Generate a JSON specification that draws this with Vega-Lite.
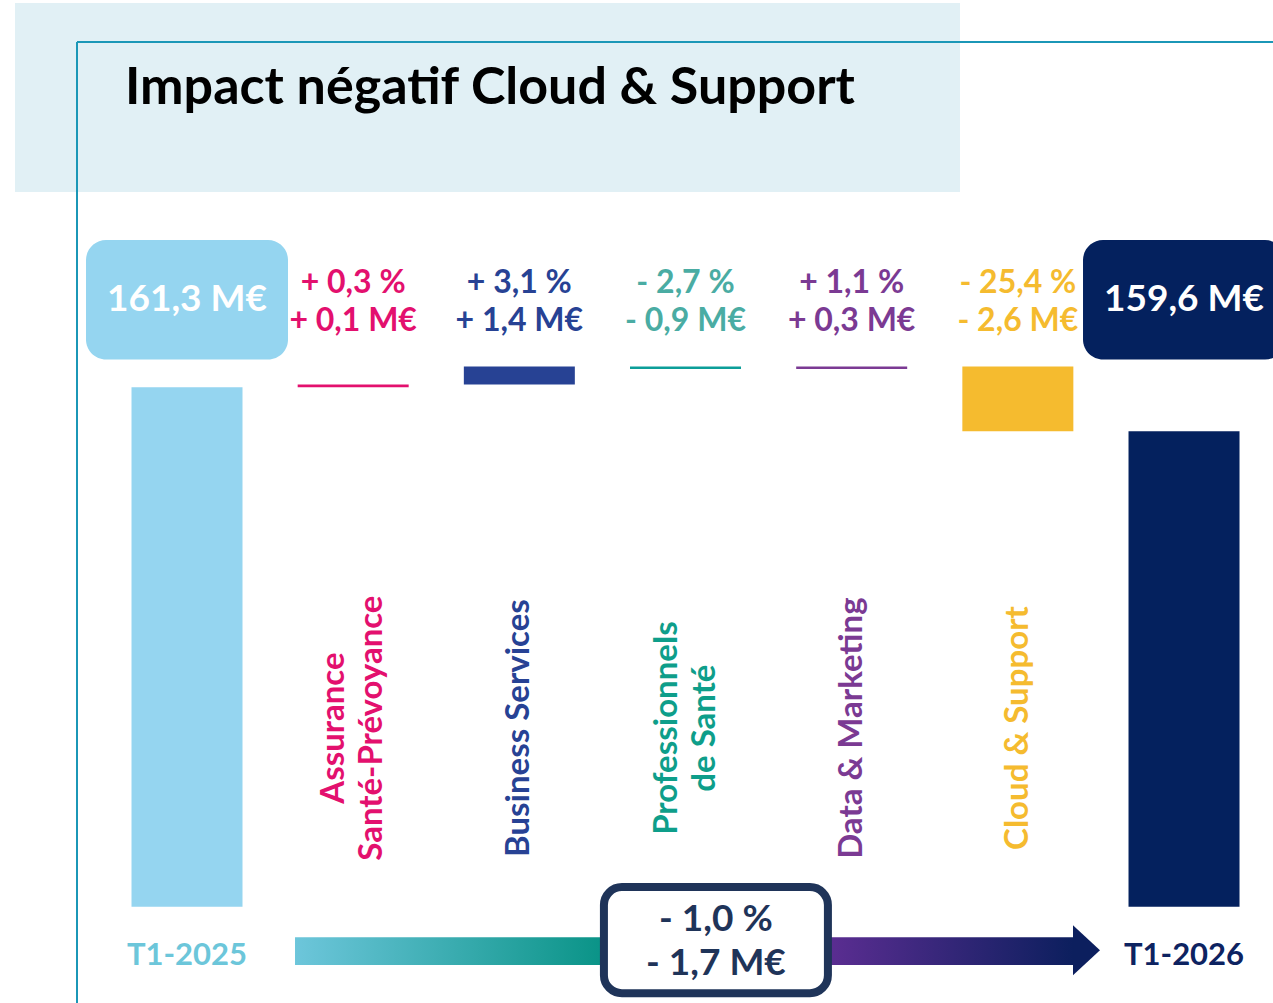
{
  "$schema": "https://vega.github.io/schema/vega-lite/v6.json",
  "width": 1273,
  "height": 1003,
  "autosize": "none",
  "padding": 0,
  "background": "white",
  "config": {"view": {"stroke": null}, "scale": {"continuousPadding": 0}, "text": {"font": "Lato", "fontWeight": "bold"}},
  "datasets": {
    "steps": [
      {"idx": 0, "cat": "T1-2025", "kind": "total", "label": "T1-2025", "start": 141.3, "end": 161.3, "value": "161,3 M€"},
      {"idx": 1, "cat": "Assurance Santé-Prévoyance", "kind": "delta", "label": "Assurance\nSanté-Prévoyance", "start": 161.3, "end": 161.4, "pct": "+ 0,3 %", "value": "+ 0,1 M€"},
      {"idx": 2, "cat": "Business Services", "kind": "delta", "label": "Business Services", "start": 161.4, "end": 162.1, "pct": "+ 3,1 %", "value": "+ 1,4 M€"},
      {"idx": 3, "cat": "Professionnels de Santé", "kind": "delta", "label": "Professionnels\nde Santé", "start": 162.1, "end": 162.0, "pct": "- 2,7 %", "value": "- 0,9 M€"},
      {"idx": 4, "cat": "Data & Marketing", "kind": "delta", "label": "Data & Marketing", "start": 162.0, "end": 162.1, "pct": "+ 1,1 %", "value": "+ 0,3 M€"},
      {"idx": 5, "cat": "Cloud & Support", "kind": "delta", "label": "Cloud & Support", "start": 162.1, "end": 159.6, "pct": "- 25,4 %", "value": "- 2,6 M€"},
      {"idx": 6, "cat": "T1-2026", "kind": "total", "label": "T1-2026", "start": 141.3, "end": 159.6, "value": "159,6 M€"}
    ],
    "summary": [{"pct": "- 1,0 %", "value": "- 1,7 M€"}],
    "heading": [{"title": "Impact négatif Cloud & Support"}]
  },
  "data": {"name": "steps"},
  "resolve": {"scale": {"color": "independent"}},
  "layer": [
    {
      "data": {"name": "heading"},
      "mark": {"type": "rect", "color": "#e1f0f5"},
      "encoding": {
        "x": {"datum": -1.035, "type": "quantitative", "scale": {"domain": [-1.1254, 6.5355], "nice": false, "zero": false, "padding": 0}, "axis": null},
        "x2": {"datum": 4.652},
        "y": {"datum": 176.08, "type": "quantitative", "scale": {"domain": [137.6, 176.2], "nice": false, "zero": false}, "axis": null},
        "y2": {"datum": 168.81}
      }
    },
    {
      "data": {"name": "heading"},
      "mark": {"type": "rule", "color": "#1b97b7", "strokeWidth": 2},
      "encoding": {
        "x": {"datum": -0.662, "type": "quantitative", "scale": {"domain": [-1.1254, 6.5355], "nice": false, "zero": false, "padding": 0}, "axis": null},
        "y": {"datum": 174.58, "type": "quantitative", "scale": {"domain": [137.6, 176.2], "nice": false, "zero": false}, "axis": null},
        "y2": {"datum": 137.6}
      }
    },
    {
      "data": {"name": "heading"},
      "mark": {"type": "rule", "color": "#1b97b7", "strokeWidth": 2},
      "encoding": {
        "x": {"datum": -0.662, "type": "quantitative", "scale": {"domain": [-1.1254, 6.5355], "nice": false, "zero": false, "padding": 0}, "axis": null},
        "x2": {"datum": 6.5355},
        "y": {"datum": 174.58, "type": "quantitative", "scale": {"domain": [137.6, 176.2], "nice": false, "zero": false}, "axis": null}
      }
    },
    {
      "data": {"name": "heading"},
      "mark": {"type": "text", "align": "left", "baseline": "alphabetic", "fontSize": 52, "color": "#000000"},
      "encoding": {
        "x": {"datum": -0.373, "type": "quantitative", "scale": {"domain": [-1.1254, 6.5355], "nice": false, "zero": false, "padding": 0}, "axis": null},
        "y": {"datum": 172.2, "type": "quantitative", "scale": {"domain": [137.6, 176.2], "nice": false, "zero": false}, "axis": null},
        "text": {"field": "title"}
      }
    },
    {
      "transform": [{"filter": "datum.kind == 'total'"}],
      "mark": {"type": "bar", "width": 202, "cornerRadius": 20},
      "encoding": {
        "x": {"field": "idx", "type": "quantitative", "scale": {"domain": [-1.1254, 6.5355], "nice": false, "zero": false, "padding": 0}, "axis": null},
        "y": {"datum": 166.96, "type": "quantitative", "scale": {"domain": [137.6, 176.2], "nice": false, "zero": false}, "axis": null},
        "y2": {"datum": 162.36},
        "color": {"field": "cat", "type": "nominal", "scale": {"domain": ["T1-2025", "T1-2026"], "range": ["#95d5f0", "#04215e"]}, "legend": null}
      }
    },
    {
      "mark": {"type": "bar", "width": 111},
      "encoding": {
        "x": {"field": "idx", "type": "quantitative", "scale": {"domain": [-1.1254, 6.5355], "nice": false, "zero": false, "padding": 0}, "axis": null},
        "y": {"field": "start", "type": "quantitative", "scale": {"domain": [137.6, 176.2], "nice": false, "zero": false}, "axis": null},
        "y2": {"field": "end"},
        "color": {"field": "cat", "type": "nominal", "scale": {"domain": ["T1-2025", "Assurance Santé-Prévoyance", "Business Services", "Professionnels de Santé", "Data & Marketing", "Cloud & Support", "T1-2026"], "range": ["#95d5f0", "#e3106e", "#274294", "#0c9e99", "#7b3a93", "#f5bb2f", "#04215e"]}, "legend": null}
      }
    },
    {
      "transform": [{"filter": "datum.kind == 'total'"}],
      "mark": {"type": "text", "align": "center", "baseline": "middle", "fontSize": 37, "color": "#ffffff"},
      "encoding": {
        "x": {"field": "idx", "type": "quantitative", "scale": {"domain": [-1.1254, 6.5355], "nice": false, "zero": false, "padding": 0}, "axis": null},
        "y": {"datum": 164.65, "type": "quantitative", "scale": {"domain": [137.6, 176.2], "nice": false, "zero": false}, "axis": null},
        "text": {"field": "value"}
      }
    },
    {
      "transform": [{"filter": "datum.kind == 'delta'"}],
      "mark": {"type": "text", "align": "center", "baseline": "middle", "fontSize": 32},
      "encoding": {
        "x": {"field": "idx", "type": "quantitative", "scale": {"domain": [-1.1254, 6.5355], "nice": false, "zero": false, "padding": 0}, "axis": null},
        "y": {"datum": 165.31, "type": "quantitative", "scale": {"domain": [137.6, 176.2], "nice": false, "zero": false}, "axis": null},
        "text": {"field": "pct"},
        "color": {"field": "cat", "type": "nominal", "scale": {"domain": ["Assurance Santé-Prévoyance", "Business Services", "Professionnels de Santé", "Data & Marketing", "Cloud & Support"], "range": ["#e3106e", "#274294", "#4aaca3", "#7b3a93", "#f5bb2f"]}, "legend": null}
      }
    },
    {
      "transform": [{"filter": "datum.kind == 'delta'"}],
      "mark": {"type": "text", "align": "center", "baseline": "middle", "fontSize": 32},
      "encoding": {
        "x": {"field": "idx", "type": "quantitative", "scale": {"domain": [-1.1254, 6.5355], "nice": false, "zero": false, "padding": 0}, "axis": null},
        "y": {"datum": 163.84, "type": "quantitative", "scale": {"domain": [137.6, 176.2], "nice": false, "zero": false}, "axis": null},
        "text": {"field": "value"},
        "color": {"field": "cat", "type": "nominal", "scale": {"domain": ["Assurance Santé-Prévoyance", "Business Services", "Professionnels de Santé", "Data & Marketing", "Cloud & Support"], "range": ["#e3106e", "#274294", "#4aaca3", "#7b3a93", "#f5bb2f"]}, "legend": null}
      }
    },
    {
      "transform": [{"filter": "datum.kind == 'delta' && indexof(datum.label, '\\n') < 0"}],
      "mark": {"type": "text", "align": "center", "baseline": "middle", "fontSize": 33, "angle": 270},
      "encoding": {
        "x": {"field": "idx", "type": "quantitative", "scale": {"domain": [-1.1254, 6.5355], "nice": false, "zero": false, "padding": 0}, "axis": null},
        "y": {"datum": 148.18, "type": "quantitative", "scale": {"domain": [137.6, 176.2], "nice": false, "zero": false}, "axis": null},
        "text": {"field": "label"},
        "color": {"field": "cat", "type": "nominal", "scale": {"domain": ["Assurance Santé-Prévoyance", "Business Services", "Professionnels de Santé", "Data & Marketing", "Cloud & Support"], "range": ["#e3106e", "#274294", "#0e9e8a", "#7b3a93", "#f5bb2f"]}, "legend": null}
      }
    },
    {
      "transform": [{"filter": "datum.kind == 'delta' && indexof(datum.label, '\\n') >= 0"}],
      "mark": {"type": "text", "align": "center", "baseline": "middle", "fontSize": 33, "angle": 270, "lineBreak": "\n", "lineHeight": 38, "dy": -19},
      "encoding": {
        "x": {"field": "idx", "type": "quantitative", "scale": {"domain": [-1.1254, 6.5355], "nice": false, "zero": false, "padding": 0}, "axis": null},
        "y": {"datum": 148.18, "type": "quantitative", "scale": {"domain": [137.6, 176.2], "nice": false, "zero": false}, "axis": null},
        "text": {"field": "label"},
        "color": {"field": "cat", "type": "nominal", "scale": {"domain": ["Assurance Santé-Prévoyance", "Business Services", "Professionnels de Santé", "Data & Marketing", "Cloud & Support"], "range": ["#e3106e", "#274294", "#0e9e8a", "#7b3a93", "#f5bb2f"]}, "legend": null}
      }
    },
    {
      "data": {"name": "summary"},
      "mark": {"type": "rect", "fill": {"gradient": "linear", "x1": 0, "y1": 0, "x2": 1, "y2": 0, "stops": [{"offset": 0, "color": "#6dc6db"}, {"offset": 0.39, "color": "#0b9488"}, {"offset": 0.69, "color": "#5a2d91"}, {"offset": 1, "color": "#0c1f5e"}]}},
      "encoding": {
        "x": {"datum": 0.65, "type": "quantitative", "scale": {"domain": [-1.1254, 6.5355], "nice": false, "zero": false, "padding": 0}, "axis": null},
        "x2": {"datum": 5.332},
        "y": {"datum": 140.13, "type": "quantitative", "scale": {"domain": [137.6, 176.2], "nice": false, "zero": false}, "axis": null},
        "y2": {"datum": 139.06}
      }
    },
    {
      "data": {"name": "summary"},
      "mark": {"type": "point", "shape": "M -0.54 -1 L 0.54 0 L -0.54 1 Z", "size": 2500, "filled": true, "opacity": 1, "color": "#0c1f5e", "strokeWidth": 0},
      "encoding": {
        "x": {"datum": 5.413, "type": "quantitative", "scale": {"domain": [-1.1254, 6.5355], "nice": false, "zero": false, "padding": 0}, "axis": null},
        "y": {"datum": 139.63, "type": "quantitative", "scale": {"domain": [137.6, 176.2], "nice": false, "zero": false}, "axis": null}
      }
    },
    {
      "data": {"name": "summary"},
      "mark": {"type": "rect", "fill": "#ffffff", "stroke": "#1f3459", "strokeWidth": 8, "cornerRadius": 18},
      "encoding": {
        "x": {"datum": 2.509, "type": "quantitative", "scale": {"domain": [-1.1254, 6.5355], "nice": false, "zero": false, "padding": 0}, "axis": null},
        "x2": {"datum": 3.857},
        "y": {"datum": 142.06, "type": "quantitative", "scale": {"domain": [137.6, 176.2], "nice": false, "zero": false}, "axis": null},
        "y2": {"datum": 137.98}
      }
    },
    {
      "data": {"name": "summary"},
      "mark": {"type": "text", "align": "center", "baseline": "middle", "fontSize": 37, "color": "#1f3459"},
      "encoding": {
        "x": {"datum": 3.183, "type": "quantitative", "scale": {"domain": [-1.1254, 6.5355], "nice": false, "zero": false, "padding": 0}, "axis": null},
        "y": {"datum": 140.78, "type": "quantitative", "scale": {"domain": [137.6, 176.2], "nice": false, "zero": false}, "axis": null},
        "text": {"field": "pct"}
      }
    },
    {
      "data": {"name": "summary"},
      "mark": {"type": "text", "align": "center", "baseline": "middle", "fontSize": 37, "color": "#1f3459"},
      "encoding": {
        "x": {"datum": 3.183, "type": "quantitative", "scale": {"domain": [-1.1254, 6.5355], "nice": false, "zero": false, "padding": 0}, "axis": null},
        "y": {"datum": 139.09, "type": "quantitative", "scale": {"domain": [137.6, 176.2], "nice": false, "zero": false}, "axis": null},
        "text": {"field": "value"}
      }
    },
    {
      "transform": [{"filter": "datum.kind == 'total'"}],
      "mark": {"type": "text", "align": "center", "baseline": "middle", "fontSize": 31},
      "encoding": {
        "x": {"field": "idx", "type": "quantitative", "scale": {"domain": [-1.1254, 6.5355], "nice": false, "zero": false, "padding": 0}, "axis": null},
        "y": {"datum": 139.4, "type": "quantitative", "scale": {"domain": [137.6, 176.2], "nice": false, "zero": false}, "axis": null},
        "text": {"field": "label"},
        "color": {"field": "cat", "type": "nominal", "scale": {"domain": ["T1-2025", "T1-2026"], "range": ["#6cc6da", "#0d2361"]}, "legend": null}
      }
    }
  ]
}
